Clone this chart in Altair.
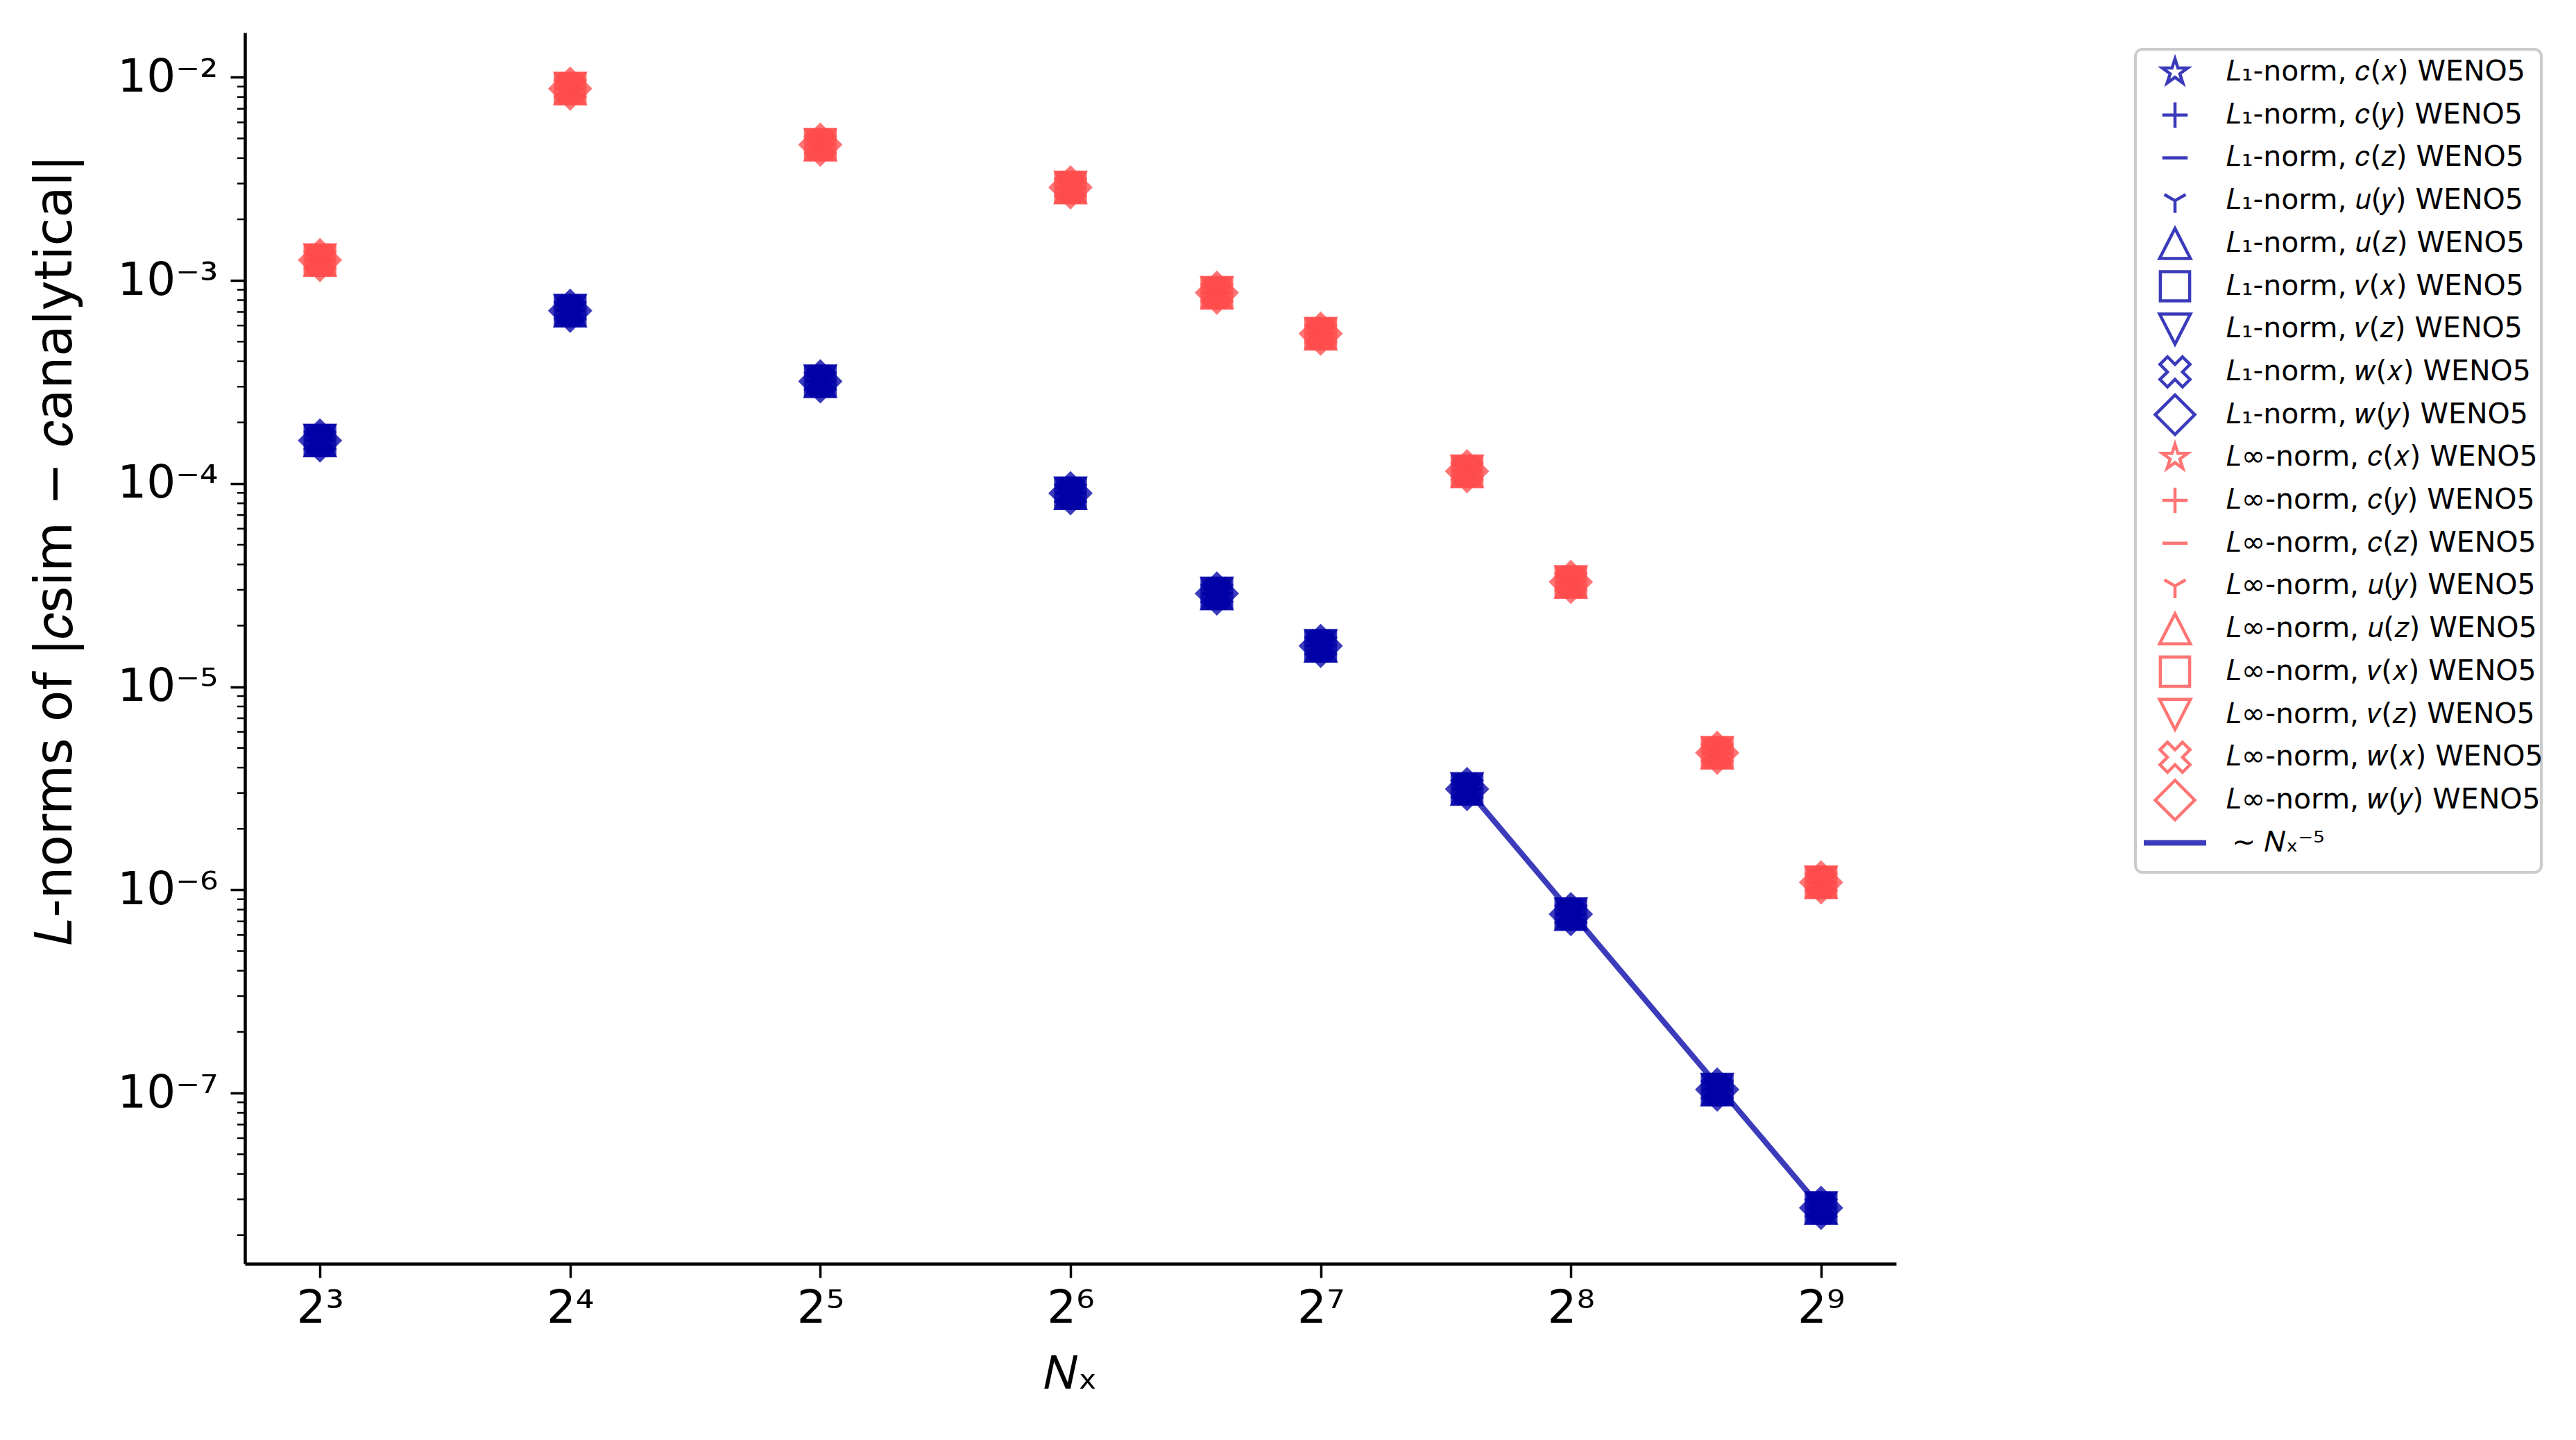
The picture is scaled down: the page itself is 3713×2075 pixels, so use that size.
import altair as alt
import pandas as pd
import numpy as np

# ---------------- data ----------------
Nx = [8, 16, 32, 64, 96, 128, 192, 256, 384, 512]
L1_err = [1.63e-4, 7.1e-4, 3.19e-4, 8.97e-5, 2.88e-5, 1.59e-5, 3.14e-6, 7.6e-7, 1.04e-7, 2.72e-8]
Linf_err = [1.26e-3, 8.8e-3, 4.66e-3, 2.87e-3, 8.7e-4, 5.47e-4, 1.15e-4, 3.28e-5, 4.73e-6, 1.09e-6]
variables = ["c(x)", "c(y)", "c(z)", "u(y)", "u(z)", "v(x)", "v(z)", "w(x)", "w(y)"]
variables_label = ["𝑐(𝑥)", "𝑐(𝑦)", "𝑐(𝑧)", "𝑢(𝑦)", "𝑢(𝑧)", "𝑣(𝑥)", "𝑣(𝑧)", "𝑤(𝑥)", "𝑤(𝑦)"]
norms = ["L1", "Linf"]
norm_label = ["𝐿₁-norm", "𝐿∞-norm"]
ref_Nx = [192, 512]
ref_err = [3.14e-6, 2.72e-8]
ref_label = "∼ 𝑁ₓ⁻⁵"
x_ticks = [8, 16, 32, 64, 128, 256, 512]
y_ticks = [1e-2, 1e-3, 1e-4, 1e-5, 1e-6, 1e-7]

# ---------------- styling ----------------
BLUE = "#0000a7"
RED = "#ff4b4b"
ALPHA = 0.77
FONT = "DejaVu Sans"
W, H = 2380, 1774
PAD = {"left": 353, "top": 47, "right": 3713 - 353 - 2380, "bottom": 2075 - 47 - 1774}

def star_path(R, ratio=0.381966):
    pts = []
    for k in range(10):
        a = np.deg2rad(-90 + 36 * k)
        r = R if k % 2 == 0 else R * ratio
        pts.append((r * np.cos(a), r * np.sin(a)))
    return "M" + "L".join(f"{x:.3f},{y:.3f}" for x, y in pts) + "Z"

def xcross_path(ext):
    P = [(-1/6, -1/2), (1/6, -1/2), (1/6, -1/6), (1/2, -1/6), (1/2, 1/6), (1/6, 1/6),
         (1/6, 1/2), (-1/6, 1/2), (-1/6, 1/6), (-1/2, 1/6), (-1/2, -1/6), (-1/6, -1/6)]
    c = np.sqrt(0.5)
    rot = [((x - y) * c, (x + y) * c) for x, y in P]
    m = max(abs(v) for p in rot for v in p)
    k = ext / m
    return "M" + "L".join(f"{x*k:.3f},{y*k:.3f}" for x, y in rot) + "Z"

shape_paths = [
    star_path(0.673),
    "M-0.64,0L0.64,0M0,-0.64L0,0.64",
    "M-0.64,0L0.64,0",
    "M0,0L0,0.62M0,0L-0.54,-0.31M0,0L0.54,-0.31",
    "M0,-0.76L0.78,0.76L-0.78,0.76Z",
    "M-0.74,-0.74L0.74,-0.74L0.74,0.74L-0.74,0.74Z",
    "M0,0.76L0.78,-0.76L-0.78,-0.76Z",
    xcross_path(0.76),
    "M0,-1L1,0L0,1L-1,0Z",
]
filled_vars = [variables[i] for i in (0, 4, 5, 6, 7, 8)]
line_vars = [variables[i] for i in (1, 2, 3)]

shape_scale = alt.Scale(domain=variables, range=shape_paths)
color_scale = alt.Scale(domain=norms, range=[BLUE, RED])

rows = []
for norm, errs in zip(norms, [L1_err, Linf_err]):
    for v in variables:
        for n, e in zip(Nx, errs):
            rows.append({"Nx": n, "err": e, "norm": norm, "var": v})
df = pd.DataFrame(rows)
df_ref = pd.DataFrame({"Nx": ref_Nx, "err": ref_err})

# minor ticks for the y axis
minor = []
for dec in range(-8, -1):
    for m in range(2, 10):
        val = m * 10.0 ** dec
        if 10 ** -7.84 < val < 10 ** -1.78:
            minor.append(val)
df_minor = pd.DataFrame({"err": minor})

x_scale = alt.Scale(type="log", base=2, domain=[2 ** 2.7, 2 ** 9.3], nice=False, zero=False)
y_scale = alt.Scale(type="log", domain=[10 ** -7.84, 10 ** -1.78], nice=False, zero=False)

sup = "['⁰','¹','²','³','⁴','⁵','⁶','⁷','⁸','⁹']"
x_axis = alt.Axis(values=x_ticks, labelExpr=f"'2' + {sup}[round(log(datum.value)/LN2)]",
                  title="𝑁ₓ", grid=False, tickSize=20, tickWidth=3.5, labelPadding=12,
                  titlePadding=30)
y_axis = alt.Axis(values=y_ticks, labelExpr=f"'10⁻' + {sup}[round(-log(datum.value)/LN10)]",
                  title="𝐿-norms of |𝑐sim − 𝑐analytical|", grid=False, tickSize=21, tickWidth=3.5,
                  labelPadding=18, titlePadding=50, titleFontSize=74, titleY=746)

ref_line = alt.Chart(df_ref).mark_line(color=BLUE, opacity=ALPHA, strokeWidth=8).encode(
    x=alt.X("Nx:Q", scale=x_scale, axis=x_axis),
    y=alt.Y("err:Q", scale=y_scale, axis=y_axis),
)

pts_filled = alt.Chart(df).transform_filter(
    alt.FieldOneOfPredicate(field="var", oneOf=filled_vars)
).mark_point(filled=True, opacity=ALPHA, size=4096).encode(
    x=alt.X("Nx:Q", scale=x_scale),
    y=alt.Y("err:Q", scale=y_scale),
    shape=alt.Shape("var:N", scale=shape_scale, legend=None),
    color=alt.Color("norm:N", scale=color_scale, legend=None),
)

pts_lines = alt.Chart(df).transform_filter(
    alt.FieldOneOfPredicate(field="var", oneOf=line_vars)
).mark_point(filled=False, opacity=ALPHA, size=4096, strokeWidth=4.5).encode(
    x=alt.X("Nx:Q", scale=x_scale),
    y=alt.Y("err:Q", scale=y_scale),
    shape=alt.Shape("var:N", scale=shape_scale, legend=None),
    color=alt.Color("norm:N", scale=color_scale, legend=None),
)

minor_ticks = alt.Chart(df_minor).mark_rule(color="black", strokeWidth=2.5).encode(
    y=alt.Y("err:Q", scale=y_scale),
    x=alt.value(-11),
    x2=alt.value(0),
)

main = alt.layer(ref_line, pts_filled, pts_lines, minor_ticks)

# ---------------- legend ----------------
leg_rows = []
i = 0
for ni, norm in enumerate(norms):
    for vi, v in enumerate(variables):
        leg_rows.append({"row": i, "norm": norm, "var": v,
                         "label": f"{norm_label[ni]}, {variables_label[vi]} WENO5"})
        i += 1
df_leg = pd.DataFrame(leg_rows)
df_leg_line = pd.DataFrame({"row": [i], "label": [ref_label]})

row_scale = alt.Scale(domain=[-57 / 61.7, (H - 57) / 61.7], reverse=True, nice=False, zero=False)

leg_box = alt.Chart(pd.DataFrame({"a": [0]})).mark_rect(
    fill="white", stroke="#cccccc", strokeWidth=4, cornerRadius=10
).encode(x=alt.value(2725), x2=alt.value(3310), y=alt.value(24), y2=alt.value(1210))

leg_pts = alt.Chart(df_leg).mark_point(filled=False, opacity=ALPHA, size=3249, strokeWidth=4.5).encode(
    x=alt.value(2782),
    y=alt.Y("row:Q", scale=row_scale, axis=None),
    shape=alt.Shape("var:N", scale=shape_scale, legend=None),
    color=alt.Color("norm:N", scale=color_scale, legend=None),
)
leg_text = alt.Chart(df_leg).mark_text(align="left", baseline="middle", fontSize=41,
                                       font=FONT, color="black").encode(
    x=alt.value(2855),
    y=alt.Y("row:Q", scale=row_scale, axis=None),
    text="label:N",
)
leg_line = alt.Chart(df_leg_line).mark_rule(color=BLUE, opacity=ALPHA, strokeWidth=8).encode(
    x=alt.value(2737), x2=alt.value(2827),
    y=alt.Y("row:Q", scale=row_scale, axis=None),
)
leg_line_text = alt.Chart(df_leg_line).mark_text(align="left", baseline="middle", fontSize=41,
                                                 font=FONT, color="black").encode(
    x=alt.value(2864),
    y=alt.Y("row:Q", scale=row_scale, axis=None),
    text="label:N",
)

legend = alt.layer(leg_box, leg_line, leg_pts, leg_text, leg_line_text)

chart = alt.layer(main, legend).resolve_scale(
    x="independent", y="independent", shape="independent", color="independent"
).properties(
    width=W, height=H,
    autosize=alt.AutoSizeParams(type="none"),
    padding=PAD,
    background="white",
).configure_view(stroke=None).configure_axis(
    domainColor="black", domainWidth=4.5, tickColor="black",
    labelFont=FONT, labelFontSize=66, labelColor="black",
    titleFont=FONT, titleFontSize=66, titleFontWeight="normal", titleColor="black",
)

chart.save("out.html", embed_options={"renderer": "svg", "actions": False})
